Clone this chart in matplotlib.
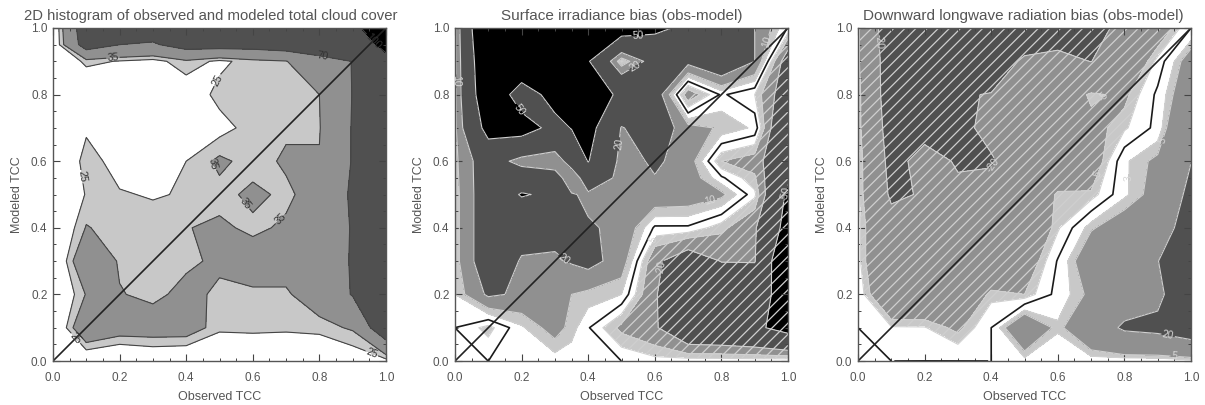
import matplotlib

matplotlib.use("Agg")
import matplotlib.pyplot as plt
from matplotlib.ticker import MultipleLocator
import numpy as np

plt.rcParams["font.family"] = ["Liberation Sans", "DejaVu Sans"]
plt.rcParams["hatch.linewidth"] = 0.9

tcc = np.arange(0, 11) / 10.0
hist_y = np.array([0, .1, .2, .3, .4, .5, .6, .7, .8, .9, .95, 1.0])
swd_x = np.array([0, .1, .2, .3, .35, .4, .5, .6, .7, .8, .9, 1.0])
swd_y = np.array([0, .1, .2, .3, .4, .5, .55, .6, .7, .8, .9, 1.0])

# 2d histogram, rows go from modeled tcc 0 upward
hist = np.array([
    [0, 10, 5, 10, 8, 5, 5, 5, 5, 15, 20],
    [5, 55, 45, 45, 45, 28, 29, 28, 30, 37, 99],
    [5, 36, 36, 31, 40, 32, 33, 33, 45, 72, 85],
    [5, 55, 33, 30, 32, 38, 42, 42, 55, 72, 85],
    [5, 36, 29, 30, 34.5, 37.3, 32.5, 37, 50, 72, 85],
    [5, 26, 26, 24, 26, 31, 38, 32.4, 42, 75, 85],
    [5, 30, 20, 18, 25, 38, 30, 37, 36, 72, 88],
    [5, 23, 10, 8, 12, 20, 30, 33, 34, 72, 90],
    [5, 5, 8, 10, 15, 29, 31, 33, 35, 71, 92],
    [5, 29, 24, 20, 32, 22, 30, 34, 60, 70.5, 95],
    [10, 88, 70, 66, 85, 85, 85, 92, 90, 88, 105],
    [10, 95, 90, 90, 92, 92, 92, 95, 95, 90, 130],
])

# surface irradiance bias
swd = np.array([
    [2, -.01, 3, 2, 2, 2, -.01, -3, -2, -2, -2, -1],
    [-.01, -7, 4, 14, 7.2, .5, -12, -18, -38, -40, -45, -60],
    [5, 22, 18, 12, 10, 8, 5, -19, -32, -36, -40, -60],
    [7, 30, 19, 18, 21, 24, 15, -17, -30, -19.5, -19, -80],
    [7, 30, 25, 25, 23, 21, 18, -1, -1, -8, -18, -60],
    [7, 30, 52, 45, 21, 18, 18, 17, 16, 12, -3.5, -55],
    [7.5, 30, 33, 28, 10, 30, 16.5, 19.5, 15.5, 1, -8.75, -46.5],
    [8, 30, 14, 11, 28, 51, 15, 22, 15, -10, -14, -38],
    [8, 60, 62, 42, 51, 60, 19, 30, 13, 9, 4, -45],
    [8, 75, 36, 60, 62, 65, 45, 30, -16, 1, -5, -30],
    [8, 80, 75, 75, 63, 52, 4, 28, 24, 35, 20, -30],
    [8, 90, 70, 70, 70, 70, 65, 55, 45, 35, 20, -.5],
])

# downward longwave bias
lwd = np.array([
    [1, -.001, .01, .01, -.001, 2, .5, 1.5, 1, 1, 2],
    [-.001, -2.7, -2.8, -6, -.001, 12, 3.5, 12, 22, 24, 30],
    [-1, -12, -12, -12, -4, -5, 1.2, 6, 12, 16, 36],
    [-2, -15, -14, -14, -12, -9, .3, 9.3, 13, 19.5, 40],
    [-2, -15, -16, -16, -14, -12, -3.5, 4.5, 8, 14, 26],
    [-2, -22, -19, -18, -16, -10, -4.5, -4.5, 2.4, 7, 24],
    [-2, -24, -16, -21, -21, -14, -10, -9, 2.5, 6, 19.7],
    [-3, -26, -24, -23, -17, -13, -10, -6.5, -3.5, 1, 16],
    [-3, -28, -27, -21, -19.5, -14, -10, -4.2, -6, .7, 10],
    [-4, -28, -28, -28, -28, -18, -17, -20.2, -12, -2, 8],
    [-4, -30, -30, -30, -30, -30, -26, -24, -17, -9, -.01],
])

hist_levels = [25, 35, 70, 100]
swd_levels = [-50, -20, -10, -5, 5, 10, 20, 50]
lwd_levels = [-50, -20, -5, -3, 3, 5, 20, 50]

hist_labels = [(.18, .91), (.5, .84), (.81, .91), (.95, .95), (.065, .55),
               (.46, .58), (.55, .45), (.67, .44), (.07, .07), (.96, .03)]
swd_labels = [(.55, .98), (.2, .76), (.55, .87), (.506, .65), (.33, .31),
              (.93, .96), (.01, .84), (.77, .47), (.6, .36), (.62, .28), (1.0, .5)]
lwd_labels = [(.04, .96), (.39, .6), (.92, .66), (.83, .55), (.72, .56),
              (.74, .79), (.93, .07), (.95, .015)]

titles = ["2D histogram of observed and modeled total cloud cover",
          "Surface irradiance bias (obs-model)",
          "Downward longwave radiation bias (obs-model)"]
title_size = [10.7, 11, 11]
title_x = [.475, .5, .495]
panel_left = [53, 455, 858]

GRAYS = {"light": "#c8c8c8", "mid": "#909090", "dark": "#505050"}
TEXT = "#555555"

fig = plt.figure(figsize=(12.05, 4.05), dpi=100)


def make_axes(n):
    ax = fig.add_axes([panel_left[n] / 1205, 44 / 405, 333 / 1205, 333 / 405])
    ax.set_xlim(0, 1)
    ax.set_ylim(0, 1)
    ax.xaxis.set_major_locator(MultipleLocator(.2))
    ax.yaxis.set_major_locator(MultipleLocator(.2))
    ax.xaxis.set_minor_locator(MultipleLocator(.05))
    ax.yaxis.set_minor_locator(MultipleLocator(.05))
    ax.tick_params(which="major", direction="in", top=True, right=True, length=5,
                   width=.8, color="#444444", labelsize=8.5, labelcolor=TEXT)
    ax.tick_params(axis="x", which="major", pad=8)
    ax.tick_params(axis="y", which="major", pad=4)
    ax.tick_params(which="minor", direction="in", top=True, right=True, length=2.5,
                   width=.7, color="#444444")
    ax.xaxis.set_major_formatter("{x:.1f}")
    ax.yaxis.set_major_formatter("{x:.1f}")
    for s in ax.spines.values():
        s.set_linewidth(1)
        s.set_color("#555555")
    ax.set_xlabel("Observed TCC", fontsize=9, color=TEXT, labelpad=5)
    ax.set_ylabel("Modeled TCC", fontsize=9, color=TEXT, labelpad=6)
    ax.set_title(titles[n], fontsize=title_size[n], color=TEXT, pad=6, x=title_x[n])
    return ax


# histogram panel
ax = make_axes(0)
ax.contourf(tcc, hist_y, hist, levels=[-1000] + hist_levels + [1000],
            colors=["white", GRAYS["light"], GRAYS["mid"], GRAYS["dark"], "black"])
cs = ax.contour(tcc, hist_y, hist, levels=hist_levels, colors="#444444", linewidths=.8)
ax.clabel(cs, fmt="%g", fontsize=7.5, colors="#333333", manual=hist_labels, inline_spacing=1)
ax.plot([0, 1], [0, 1], color="#222222", lw=1.2)

# the two bias panels, hatched where the bias is negative
for i, (x, y, z, levels, labels) in enumerate([(swd_x, swd_y, swd, swd_levels, swd_labels),
                                               (tcc, tcc, lwd, lwd_levels, lwd_labels)]):
    ax = make_axes(i + 1)
    bands = ["black", GRAYS["dark"], GRAYS["mid"], GRAYS["light"], "white",
             GRAYS["light"], GRAYS["mid"], GRAYS["dark"], "black"]
    ax.contourf(x, y, z, levels=[-1000] + levels + [1000], colors=bands)
    hh = ax.contourf(x, y, z, levels=[-1000, levels[3]], colors="none", hatches=["///"])
    hh.set_edgecolor("#cfcfcf")
    hh.set_linewidth(0)
    cs = ax.contour(x, y, z, levels=levels, colors="#d0d0d0", linewidths=.8,
                    linestyles="solid")
    ax.clabel(cs, fmt="%g", fontsize=7.5, colors="#d8d8d8", manual=labels, inline_spacing=1)
    ax.contour(x, y, z, levels=[0], colors="#1a1a1a", linewidths=1.2, linestyles="solid")
    ax.plot([0, 1], [0, 1], color="#222222", lw=1.2)

fig.savefig("out.png", dpi=100)
